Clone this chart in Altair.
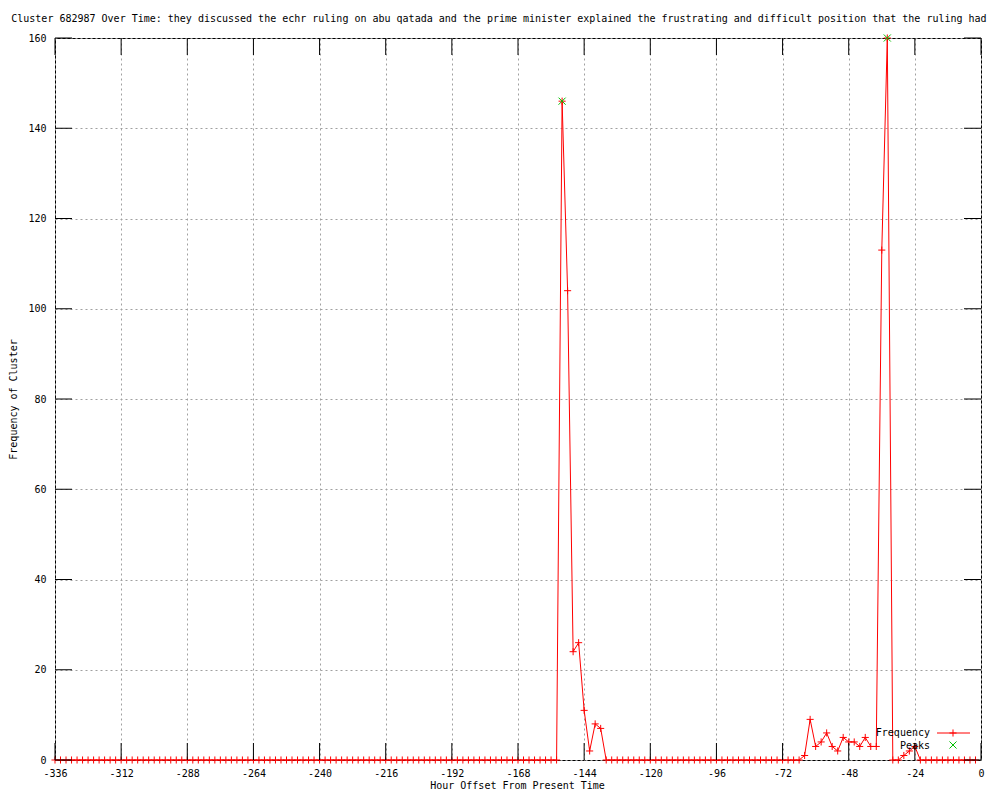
import altair as alt
import pandas as pd

# ---- data ----
hours = list(range(-336, 0, 2))  # 2-hour bins, -336 ... -2

frequency = [
    0, 0, 0, 0, 0, 0, 0, 0, 0, 0, 0, 0,          # -336 .. -314
    0, 0, 0, 0, 0, 0, 0, 0, 0, 0, 0, 0,          # -312 .. -290
    0, 0, 0, 0, 0, 0, 0, 0, 0, 0, 0, 0,          # -288 .. -266
    0, 0, 0, 0, 0, 0, 0, 0, 0, 0, 0, 0,          # -264 .. -242
    0, 0, 0, 0, 0, 0, 0, 0, 0, 0, 0, 0,          # -240 .. -218
    0, 0, 0, 0, 0, 0, 0, 0, 0, 0, 0, 0,          # -216 .. -194
    0, 0, 0, 0, 0, 0, 0, 0, 0, 0, 0, 0,          # -192 .. -170
    0, 0, 0, 0, 0, 0, 0, 0, 146, 104, 24, 26,    # -168 .. -146
    11, 2, 8, 7, 0, 0, 0, 0, 0, 0, 0, 0,         # -144 .. -122
    0, 0, 0, 0, 0, 0, 0, 0, 0, 0, 0, 0,          # -120 .. -98
    0, 0, 0, 0, 0, 0, 0, 0, 0, 0, 0, 0,          # -96 .. -74
    0, 0, 0, 0, 1, 9, 3, 4, 6, 3, 2, 5,          # -72 .. -50
    4, 4, 3, 5, 3, 3, 113, 160, 0, 0, 1, 2,      # -48 .. -26
    3, 0, 0, 0, 0, 0, 0, 0, 0, 0, 0, 0,          # -24 .. -2
]

peak_hours = [-152, -34]
peak_values = [146, 160]

x_ticks = [-336, -312, -288, -264, -240, -216, -192, -168, -144, -120, -96, -72, -48, -24, 0]
y_ticks = [0, 20, 40, 60, 80, 100, 120, 140, 160]

title_text = ("Frequency of Cluster 682987 Over Time: they discussed the echr ruling on abu qatada "
              "and the prime minister explained the frustrating and difficult position that the ruling had created")
x_title = "Hour Offset From Present Time"
y_title = "Frequency of Cluster"
legend_labels = ["Frequency", "Peaks"]

# ---- styling ----
W, H = 926, 722
FONT = "DejaVu Sans Mono"
RED = "#ff0000"
GREEN = "#00c000"
PLUS = "M-1,0H1M0,-1V1"
CROSS = "M-1,-1L1,1M1,-1L-1,1"
TICK = 17

df = pd.DataFrame({"hour": hours, "freq": frequency})
peaks = pd.DataFrame({"hour": peak_hours, "freq": peak_values})
xt = pd.DataFrame({"hour": x_ticks})
yt = pd.DataFrame({"freq": y_ticks})

x_scale = alt.Scale(domain=[-336, 0], nice=False, zero=False)
y_scale = alt.Scale(domain=[0, 160], nice=False, zero=False)

x_axis = alt.Axis(values=x_ticks, title=x_title, grid=True, gridDash=[2, 3], gridColor="#a0a0a0",
                  ticks=False, domain=False, labelFont=FONT, labelFontSize=10, labelColor="black",
                  labelPadding=8, labelFlush=False, labelOverlap=False,
                  labelExpr="'' + datum.value",
                  titleFont=FONT, titleFontSize=10, titleFontWeight="normal", titleColor="black",
                  titleX=W / 2 - 1, titleY=25, titleBaseline="middle", titleAnchor="middle")
y_axis = alt.Axis(values=y_ticks, title=y_title, grid=True, gridDash=[2, 3], gridColor="#a0a0a0",
                  ticks=False, domain=False, labelFont=FONT, labelFontSize=10, labelColor="black",
                  labelPadding=9, labelFlush=False, labelOverlap=False,
                  labelExpr="'' + datum.value",
                  titleFont=FONT, titleFontSize=10, titleFontWeight="normal", titleColor="black",
                  titleX=-42, titleY=H / 2, titleAngle=-90, titleBaseline="middle", titleAnchor="middle")

line = alt.Chart(df).mark_line(color=RED, strokeWidth=1).encode(
    x=alt.X("hour:Q", scale=x_scale, axis=x_axis),
    y=alt.Y("freq:Q", scale=y_scale, axis=y_axis),
)
pts = alt.Chart(df).mark_point(shape=PLUS, filled=False, stroke=RED, strokeWidth=1, size=50, opacity=1).encode(
    x="hour:Q", y="freq:Q")
pk = alt.Chart(peaks).mark_point(shape=CROSS, filled=False, stroke=GREEN, strokeWidth=1, size=50, opacity=1).encode(
    x="hour:Q", y="freq:Q")

tick_b = alt.Chart(xt).mark_rule(color="black", strokeWidth=1).encode(
    x="hour:Q", y=alt.value(H), y2=alt.value(H - TICK))
tick_t = alt.Chart(xt).mark_rule(color="black", strokeWidth=1).encode(
    x="hour:Q", y=alt.value(0), y2=alt.value(TICK))
tick_l = alt.Chart(yt).mark_rule(color="black", strokeWidth=1).encode(
    y="freq:Q", x=alt.value(0), x2=alt.value(TICK))
tick_r = alt.Chart(yt).mark_rule(color="black", strokeWidth=1).encode(
    y="freq:Q", x=alt.value(W), x2=alt.value(W - TICK))

one = pd.DataFrame({"t": [title_text]})
title = alt.Chart(one).mark_text(font=FONT, fontSize=10, align="left", baseline="alphabetic", color="black").encode(
    text="t:N", x=alt.value(-122), y=alt.value(-16))

leg1 = pd.DataFrame({"t": [legend_labels[0]]})
leg2 = pd.DataFrame({"t": [legend_labels[1]]})
leg_t1 = alt.Chart(leg1).mark_text(font=FONT, fontSize=10, align="right", baseline="middle", color="black").encode(
    text="t:N", x=alt.value(875), y=alt.value(695))
leg_t2 = alt.Chart(leg2).mark_text(font=FONT, fontSize=10, align="right", baseline="middle", color="black").encode(
    text="t:N", x=alt.value(875), y=alt.value(708))
leg_line = alt.Chart(leg1).mark_rule(color=RED, strokeWidth=1).encode(
    x=alt.value(882), x2=alt.value(915), y=alt.value(695))
leg_plus = alt.Chart(leg1).mark_point(shape=PLUS, filled=False, stroke=RED, strokeWidth=1, size=50, opacity=1).encode(
    x=alt.value(898), y=alt.value(695))
leg_cross = alt.Chart(leg2).mark_point(shape=CROSS, filled=False, stroke=GREEN, strokeWidth=1, size=50, opacity=1).encode(
    x=alt.value(898), y=alt.value(707))

chart = alt.layer(
    line, pts, pk, tick_b, tick_t, tick_l, tick_r, title,
    leg_t1, leg_t2, leg_line, leg_plus, leg_cross
).properties(
    width=W, height=H,
    autosize=alt.AutoSizeParams(type="none"),
    padding={"left": 47, "top": 30, "right": 11, "bottom": 32},
    background="white",
).configure_view(stroke="black", strokeWidth=1)

chart.save("out.html", embed_options={"renderer": "svg", "actions": False})
